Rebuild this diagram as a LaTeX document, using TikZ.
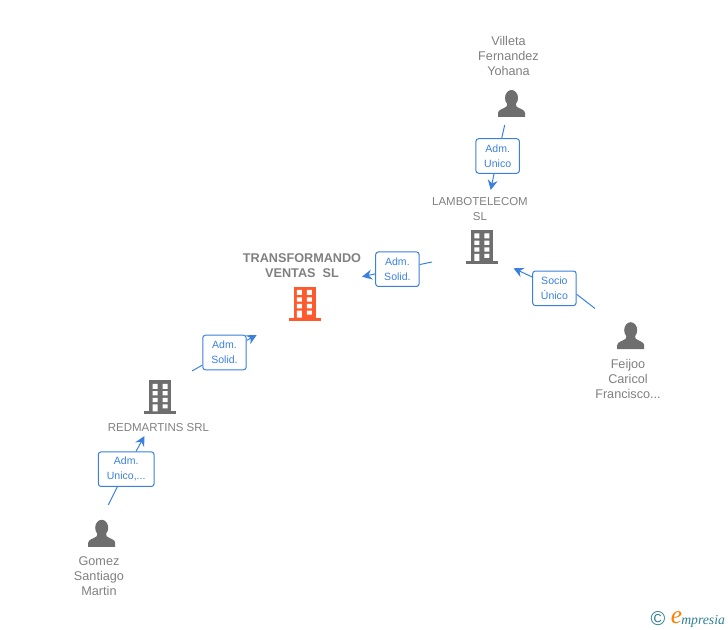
\documentclass[tikz,border=0pt]{standalone}
\usepackage{fontspec}
\setmainfont{Liberation Sans}
\newfontfamily\logofont{Liberation Serif}
\usetikzlibrary{arrows.meta, calc, positioning}

\definecolor{linkblue}{HTML}{3B80DE}
\definecolor{icongray}{HTML}{6E6E6E}
\definecolor{namegray}{HTML}{808080}
\definecolor{hotorange}{HTML}{FF5A2D}
\definecolor{logoteal}{HTML}{2F7F95}

\tikzset{
	nametext/.style = {text=namegray, align=center, inner sep=0pt, font=\fontsize{9.5}{11.25}\selectfont},
	firmtext/.style = {nametext, font=\fontsize{8.6}{11.25}\selectfont},
	maintext/.style = {nametext, font=\fontsize{9.5}{11.25}\selectfont\bfseries},
	rolebox/.style  = {draw=linkblue, fill=white, rounded corners=2pt, line width=.75pt, text=linkblue,
	                   align=center, inner sep=0pt, minimum width=32.6pt, minimum height=25.9pt,
	                   font=\fontsize{7.9}{11.25}\selectfont},
	link/.style     = {draw=linkblue, line width=.75pt, -{Stealth[length=7.5pt,width=7.5pt,inset=2.5pt]}},
	plainlink/.style= {draw=linkblue, line width=.75pt},
	person/.pic = {
		\fill[icongray] (0,-5.5) ellipse [x radius=6.5, y radius=8];
		\fill[icongray] (-13.5,13.5) -- (-13.5,9.5) .. controls (-13.5,6) and (-8,5.5) .. (-5,3)
		     -- (-4,-1) -- (4,-1) -- (5,3) .. controls (8,5.5) and (13.5,6) .. (13.5,9.5) -- (13.5,13.5) -- cycle;
	},
	building/.pic = {
		\fill[pic actions] (-11,-17) rectangle (11,15);
		\fill[pic actions] (-16,14) rectangle (16,17);
		\fill[white] (-7.7,-13.7) rectangle (-2.7,-8.7)  (2.3,-13.7) rectangle (7.3,-8.7)
		             (-7.7,-6.3)  rectangle (-2.7,-2)    (2.3,-6.3)  rectangle (7.3,-2)
		             (-7.7,.3)    rectangle (-2.7,4.7)   (2.3,.3)    rectangle (7.3,4.7)
		             (-7.7,7)     rectangle (-2.7,14)    (2.3,7)     rectangle (7.3,11);
	},
}

\begin{document}
\begin{tikzpicture}[x=.75pt, y=-.75pt]
	\useasboundingbox (0,0) rectangle (728,630);

	% icons
	\pic at (511.5,103.5) {person};
	\pic at (630.7,335.7) {person};
	\pic at (101.7,533.3) {person};
	\pic[fill=icongray]  at (482,247)     {building};
	\pic[fill=icongray]  at (160.3,397.5) {building};
	\pic[fill=hotorange] at (304.5,303.7) {building};

	% names
	\node[nametext] (villeta)  at (508.5,56)  {Villeta\\Fernandez\\Yohana};
	\node[nametext] (feijoo)   at (628,379)   {Feijoo\\Caricol\\Francisco...};
	\node[nametext] (gomez)    at (99,576)    {Gomez\\Santiago\\Martin};
	\node[firmtext] (lambo)    at (480,209.2) {LAMBOTELECOM\\SL};
	\node[firmtext] (redmart)  at (158.5,427.7) {REDMARTINS SRL};
	\node[maintext] (transf)   at (302,265.5) {TRANSFORMANDO\\VENTAS\ \ SL};

	% role boxes
	\node[rolebox] (villetaRole) at (497.7,156)   {Adm.\\Unico};
	\node[rolebox] (lamboRole)   at (397.4,269.2) {Adm.\\Solid.};
	\node[rolebox] (feijooRole)  at (554.4,288.3) {Socio\\Único};
	\node[rolebox] (redmartRole) at (224.5,352.5) {Adm.\\Solid.};
	\node[rolebox, minimum width=41.8pt] (gomezRole) at (126.2,469.2) {Adm.\\Unico,...};

	% free ends of the links
	\coordinate (villetaOut) at (504.7,125);
	\coordinate (lamboIn)    at (490.7,190);
	\coordinate (lamboOut)   at (432,262);
	\coordinate (transfInR)  at (362,276.7);
	\coordinate (feijooOut)  at (595,308.5);
	\coordinate (lamboInR)   at (513.5,268.3);
	\coordinate (redmartOut) at (192,371);
	\coordinate (transfInL)  at (256.7,335);
	\coordinate (gomezOut)   at (108.3,505);
	\coordinate (redmartIn)  at (144.5,436);

	\draw[link] (villetaOut) -- (villetaRole) -- (lamboIn);
	\draw[link] (lamboOut)   -- (lamboRole)   -- (transfInR);
	\draw[link] (redmartOut) -- (redmartRole) -- (transfInL);
	\draw[link] (gomezOut)   -- (gomezRole)   -- (redmartIn);
	\draw[plainlink] (feijooOut) -- (feijooRole.-15);
	\draw[link] (feijooRole.153) -- (lamboInR);

	% logo
	\node[text=logoteal, inner sep=0pt, font=\fontsize{15}{15}\selectfont] (logoMark) at (658,619) {\textcopyright};
	\node[text=orange, inner sep=0pt, font=\logofont\itshape\fontsize{19}{19}\selectfont] (logoE) at (676.5,618) {e};
	\node[text=logoteal, anchor=west, inner sep=0pt, font=\logofont\itshape\fontsize{10.3}{11}\selectfont] (logoName) at (681,621) {mpresia};
\end{tikzpicture}
\end{document}
